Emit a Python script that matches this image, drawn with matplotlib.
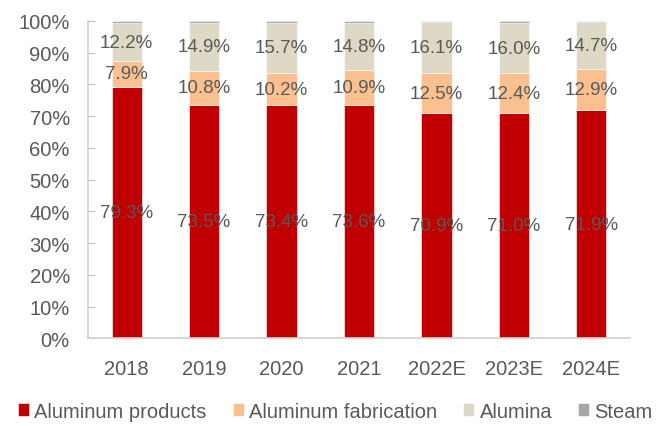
import matplotlib
matplotlib.use("Agg")
import matplotlib.pyplot as plt
import numpy as np

years = ["2018", "2019", "2020", "2021", "2022E", "2023E", "2024E"]
aluminum_products = [79.3, 73.5, 73.4, 73.6, 70.9, 71.0, 71.9]
aluminum_fabrication = [7.9, 10.8, 10.2, 10.9, 12.5, 12.4, 12.9]
alumina = [12.2, 14.9, 15.7, 14.8, 16.1, 16.0, 14.7]
steam = [0.6, 0.8, 0.7, 0.7, 0.5, 0.6, 0.5]

series = [
    ("Aluminum products", aluminum_products, "#C00000"),
    ("Aluminum fabrication", aluminum_fabrication, "#FAC090"),
    ("Alumina", alumina, "#DDD9C4"),
    ("Steam", steam, "#A6A6A6"),
]
labeled = {"Aluminum products", "Aluminum fabrication", "Alumina"}

plt.rcParams['font.family'] = ['Liberation Sans', 'DejaVu Sans']
txt = "#595959"

fig = plt.figure(figsize=(6.71, 4.27), dpi=100)
ax = fig.add_axes([0.131, 0.2054, 0.808, 0.7436])

x = np.arange(len(years))
bottom = np.zeros(len(years))
for name, vals, color in series:
    vals = np.array(vals)
    ax.bar(x, vals, width=0.39, bottom=bottom, color=color, label=name,
           edgecolor="white", linewidth=0.4)
    if name in labeled:
        for xi, b, v in zip(x, bottom, vals):
            ax.text(xi, b + v / 2, f"{v:.1f}%", ha="center", va="center",
                    fontsize=13.5, color=txt)
    bottom += vals

ax.set_xlim(-0.5, 6.5)
ax.set_ylim(0, 100)
ax.set_yticks(np.arange(0, 101, 10))
ax.set_yticklabels([f"{v}%" for v in range(0, 101, 10)])
ax.set_xticks(x)
ax.set_xticklabels(years)
for s in ["top", "right"]:
    ax.spines[s].set_visible(False)
for s in ["left", "bottom"]:
    ax.spines[s].set_color("#D0D0D0")
    ax.spines[s].set_linewidth(1.2)
ax.tick_params(axis="y", direction="in", length=5, color="#BFBFBF", labelsize=14.5,
               labelcolor=txt, pad=13)
ax.tick_params(axis="x", length=0, labelsize=14.5, labelcolor=txt, pad=15)

fig.legend(loc="lower center", bbox_to_anchor=(0.5, -0.03), ncol=4, frameon=False,
           fontsize=14.5, handlelength=0.55, handleheight=0.55, handletextpad=0.25,
           columnspacing=1.3, labelcolor=txt)

fig.savefig("out.png", dpi=100)
